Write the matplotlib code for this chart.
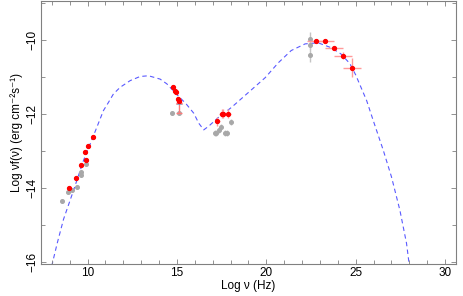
import matplotlib
matplotlib.use('Agg')
import matplotlib.pyplot as plt
from matplotlib.ticker import MultipleLocator

plt.rcParams['font.family'] = ['Liberation Sans', 'DejaVu Sans']

# model curve
model_x = [8.0, 8.3, 8.66, 9.22, 9.78, 10.34, 10.71, 10.89, 11.17, 11.45, 11.83, 12.39,
           12.94, 13.41, 14.06, 14.44, 14.94, 15.5, 15.94, 16.22, 16.5, 16.78, 17.33,
           18.06, 19.0, 19.94, 20.67, 21.39, 22.17, 22.89, 23.61, 24.17, 24.67, 25.0,
           25.61, 25.98, 26.54, 27.0, 27.47, 27.84, 28.0]
model_y = [-16.1, -15.5, -14.84, -14.06, -13.25, -12.58, -12.13, -11.91, -11.69, -11.46, -11.28, -11.10,
           -10.99, -10.97, -11.06, -11.19, -11.45, -11.72, -11.98, -12.25, -12.43, -12.33, -12.09,
           -11.82, -11.42, -11.02, -10.62, -10.29, -10.11, -10.08, -10.21, -10.38, -10.64, -10.95,
           -11.64, -12.18, -12.98, -13.7, -14.6, -15.49, -16.1]

# simultaneous data (red)
red_x = [8.94, 9.33, 9.65, 9.91, 9.87, 10.02, 10.30,
         14.80, 14.88, 14.93, 15.08, 15.14,
         17.26, 17.51, 17.60, 17.88,
         22.78, 23.28, 23.78, 24.30, 24.80]
red_y = [-13.99, -13.74, -13.37, -13.25, -13.02, -12.87, -12.61,
         -11.28, -11.38, -11.40, -11.59, -11.64,
         -12.20, -12.00, -12.00, -12.00,
         -10.03, -10.03, -10.21, -10.43, -10.75]
red_xerr = [0, 0, 0, 0, 0, 0, 0,
            0.05, 0.05, 0.05, 0.05, 0.05,
            0.15, 0.15, 0.15, 0.15,
            0.5, 0.5, 0.5, 0.5, 0.5]
red_yerr = [0.03, 0.03, 0.03, 0.03, 0.03, 0.03, 0.03,
            0.04, 0.04, 0.04, 0.04, 0.04,
            0.12, 0.12, 0.12, 0.12,
            0.03, 0.03, 0.05, 0.1, 0.25]

# lower limit
lim_x = [15.14]
lim_y = [-11.97]

# archival data (grey)
grey_x = [8.57, 8.90, 9.13, 9.41, 9.66, 9.66, 9.91,
          14.71, 15.14,
          17.15, 17.19, 17.38, 17.45, 17.69, 17.79, 18.01,
          22.45, 22.45, 22.45]
grey_y = [-14.35, -14.10, -14.06, -13.97, -13.58, -13.66, -13.36,
          -11.97, -11.98,
          -12.51, -12.51, -12.43, -12.36, -12.51, -12.51, -12.22,
          -9.98, -10.14, -10.41]
grey_yerr = [0.02, 0.02, 0.02, 0.02, 0.02, 0.02, 0.02,
             0.02, 0.02,
             0.08, 0.08, 0.08, 0.08, 0.08, 0.08, 0.08,
             0.2, 0.1, 0.2]

fig = plt.figure(figsize=(4.63, 2.96), dpi=100)
ax = fig.add_axes([0.0886, 0.108, 0.896, 0.889])

ax.plot(model_x, model_y, color='#5a5aff', lw=0.8, dashes=(4, 3), zorder=1)

ax.errorbar(grey_x, grey_y, yerr=grey_yerr, fmt='o', ms=2.6, color='#a8a8a8',
            ecolor='#c4c4c4', elinewidth=1.0, capsize=0, zorder=2)
ax.errorbar(red_x, red_y, xerr=red_xerr, yerr=red_yerr, fmt='o', ms=2.8, color='#ff0000',
            ecolor='#ff9a9a', elinewidth=1.0, capsize=0, zorder=3)
ax.errorbar(lim_x, lim_y, yerr=0.25, lolims=True, fmt='none', ecolor='#ff7a7a',
            elinewidth=1.0, capsize=2.5, zorder=3)

ax.set_xlim(7.4, 30.6)
ax.set_ylim(-16.05, -8.95)
ax.xaxis.set_major_locator(MultipleLocator(5))
ax.xaxis.set_minor_locator(MultipleLocator(1))
ax.yaxis.set_major_locator(MultipleLocator(2))
ax.yaxis.set_minor_locator(MultipleLocator(1))

for s in ax.spines.values():
    s.set_color('#808080')
    s.set_linewidth(0.8)
ax.tick_params(which='both', direction='in', top=True, right=True, color='#808080',
               width=0.6, labelsize=8.5, pad=2)
ax.tick_params(which='major', length=3.5)
ax.tick_params(which='minor', length=3)
ax.set_xticks([10, 15, 20, 25, 30])
ax.set_xticklabels(['10', '15', '20', '25', '30'])
yt = [-16, -14, -12, -10]
ax.set_yticks(yt)
ax.set_yticklabels(['\u2212' + str(-v) for v in yt], rotation=90, va='center')

ax.set_xlabel('Log \u03bd (Hz)', fontsize=8.5, labelpad=1)
ax.set_ylabel('Log \u03bdf(\u03bd) (erg cm\u207b\u00b2s\u207b\u00b9)', fontsize=8.5, labelpad=2)

fig.savefig('out.png', dpi=100)
